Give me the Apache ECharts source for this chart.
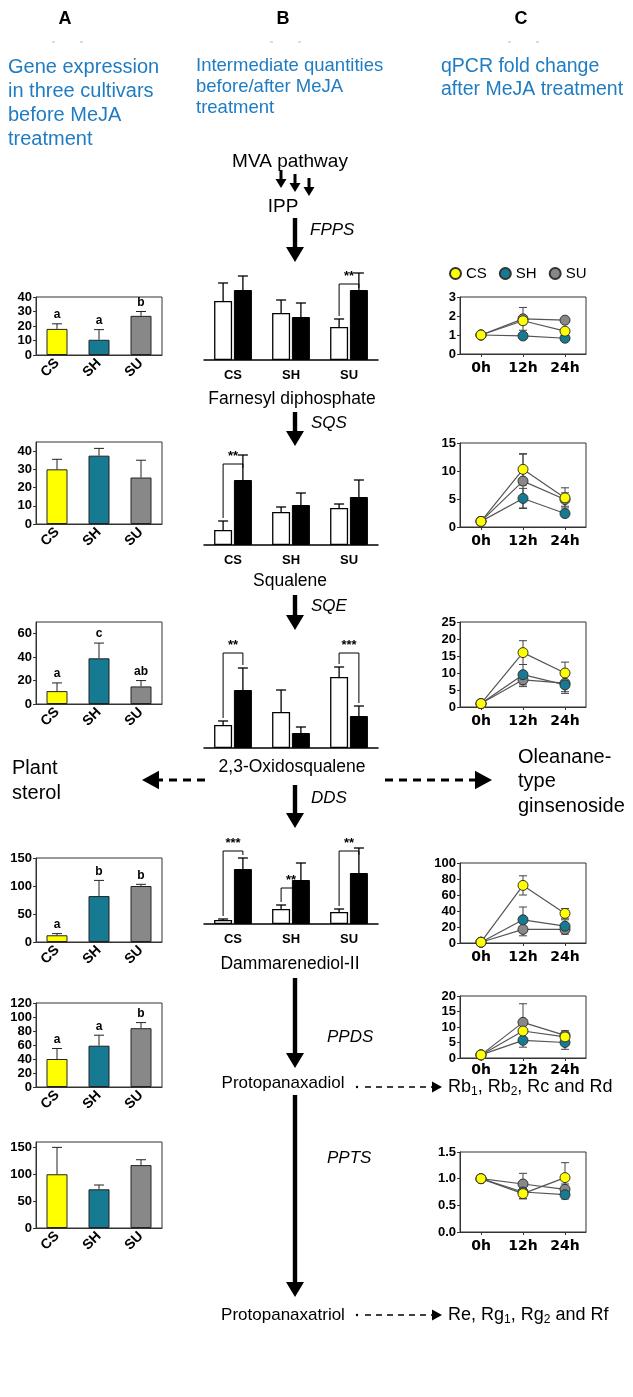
<!DOCTYPE html>
<html><head><meta charset="utf-8">
<script src="https://cdn.jsdelivr.net/npm/echarts@6/dist/echarts.min.js"></script>
<style>html,body{margin:0;padding:0;background:#fff}#c{width:633px;height:1397px}</style>
</head><body><div id="c"></div>
<script>
// ---------------- DATA ----------------
const cultivars = ['CS', 'SH', 'SU'];
const timepoints = ['0h', '12h', '24h'];
const cultivarColors = ['#ffff00', '#157a92', '#888888'];

// Column A: gene expression in three cultivars before MeJA treatment
const fppsExpr = [18, 10.5, 27], fppsExprErr = [3.5, 7, 3], fppsExprSig = ['a', 'a', 'b'];
const sqsExpr = [30, 37.5, 25.5], sqsExprErr = [5.5, 4, 9.5], sqsExprSig = ['', '', ''];
const sqeExpr = [11, 39, 15], sqeExprErr = [7, 13, 5], sqeExprSig = ['a', 'c', 'ab'];
const ddsExpr = [12, 82, 100], ddsExprErr = [3, 28, 3], ddsExprSig = ['a', 'b', 'b'];
const ppdsExpr = [40, 59, 84], ppdsExprErr = [15, 15, 8], ppdsExprSig = ['a', 'a', 'b'];
const pptsExpr = [100, 72, 117], pptsExprErr = [50, 8, 10], pptsExprSig = ['', '', ''];

// Column B: intermediate quantities before / after MeJA (relative units)
const fppBefore = [59, 47, 33], fppBeforeErr = [18, 13, 8];
const fppAfter = [70, 43, 70], fppAfterErr = [14, 14, 17];
const fppSig = ['', '', '**'], fppBracket = [null, null, 76];
const sqBefore = [15, 33, 37], sqBeforeErr = [9, 5, 4];
const sqAfter = [65, 40, 48], sqAfterErr = [25, 12, 17];
const sqSig = ['**', '', ''], sqBracket = [81, null, null];
const oxBefore = [23, 36, 71], oxBeforeErr = [4, 22, 10];
const oxAfter = [58, 15, 32], oxAfterErr = [22, 6, 10];
const oxSig = ['**', '', '***'], oxBracket = [95, null, 95];
const dmBefore = [4, 15, 12], dmBeforeErr = [1, 4, 3];
const dmAfter = [55, 44, 51], dmAfterErr = [11, 17, 25];
const dmSig = ['***', '**', '**'], dmBracket = [73, 36, 73];

// Column C: qPCR fold change after MeJA treatment (0h, 12h, 24h)
const fppsCS = [1, 1.75, 1.2], fppsCSErr = [0, 0.2, 0.12];
const fppsSH = [1, 0.95, 0.83], fppsSHErr = [0, 0.15, 0.15];
const fppsSU = [1, 1.85, 1.78], fppsSUErr = [0, 0.6, 0.05];
const sqsCS = [1, 10.3, 5.2], sqsCSErr = [0, 2.8, 1.8];
const sqsSH = [1, 5.1, 2.4], sqsSHErr = [0, 1.8, 0.6];
const sqsSU = [1, 8.2, 4.9], sqsSUErr = [0, 4.8, 1.2];
const sqeCS = [1, 16, 10], sqeCSErr = [0, 3.5, 3.2];
const sqeSH = [1, 9.5, 6.5], sqeSHErr = [0, 3, 2.5];
const sqeSU = [1, 8, 7], sqeSUErr = [0, 2, 2.5];
const ddsCS = [1, 72, 37], ddsCSErr = [0, 12, 6];
const ddsSH = [1, 29, 21], ddsSHErr = [0, 16, 8];
const ddsSU = [1, 17, 17], ddsSUErr = [0, 8, 6];
const ppdsCS = [1, 8.7, 6.8], ppdsCSErr = [0, 3, 1.5];
const ppdsSH = [1, 5.7, 5], ppdsSHErr = [0, 2.2, 2.2];
const ppdsSU = [1, 11.5, 7.3], ppdsSUErr = [0, 6, 1.5];
const pptsCS = [1, 0.72, 1.02], pptsCSErr = [0, 0.1, 0.28];
const pptsSH = [1, 0.75, 0.7], pptsSHErr = [0, 0.12, 0.08];
const pptsSU = [1, 0.9, 0.8], pptsSUErr = [0, 0.2, 0.1];

// ---------------- LAYOUT ----------------
const FONT = '"Liberation Sans", Arial, sans-serif';
const BLUE = '#1f7cc2';
const layoutA = [
  { top: 297, height: 58, max: 40, interval: 10, showMax: true },
  { top: 442, height: 82, max: 45, interval: 10, showMax: false },
  { top: 622, height: 82, max: 70, interval: 20, showMax: false },
  { top: 858, height: 84, max: 150, interval: 50, showMax: true },
  { top: 1003, height: 84, max: 120, interval: 20, showMax: true },
  { top: 1142, height: 86, max: 160, interval: 50, showMax: false }
];
const layoutB = [
  { top: 260, height: 100, labels: true },
  { top: 445, height: 100, labels: true },
  { top: 648, height: 100, labels: false },
  { top: 824, height: 100, labels: true }
];
const layoutC = [
  { top: 297, height: 57, max: 3, interval: 1, dec: 0, margin: 7 },
  { top: 443, height: 84, max: 15, interval: 5, dec: 0, margin: 7 },
  { top: 622, height: 85, max: 25, interval: 5, dec: 0, margin: 7 },
  { top: 863, height: 80, max: 100, interval: 20, dec: 0, margin: 7 },
  { top: 996, height: 62, max: 20, interval: 5, dec: 0, margin: 5 },
  { top: 1152, height: 80, max: 1.5, interval: 0.5, dec: 1, margin: 7 }
];

const grid = [], xAxis = [], yAxis = [], series = [];
let k = 0;

// ---- Column A ----
const colA = [
  [fppsExpr, fppsExprErr, fppsExprSig], [sqsExpr, sqsExprErr, sqsExprSig],
  [sqeExpr, sqeExprErr, sqeExprSig], [ddsExpr, ddsExprErr, ddsExprSig],
  [ppdsExpr, ppdsExprErr, ppdsExprSig], [pptsExpr, pptsExprErr, pptsExprSig]
];
colA.forEach((d, j) => {
  const L = layoutA[j], vals = d[0], errs = d[1], sig = d[2];
  grid.push({ left: 36, width: 126, top: L.top, height: L.height, show: true, borderColor: '#333', borderWidth: 1 });
  xAxis.push({ type: 'category', gridIndex: k, data: cultivars,
    axisLine: { lineStyle: { color: '#333' } }, axisTick: { show: false },
    axisLabel: { rotate: 45, fontWeight: 'bold', fontSize: 14, color: '#000', fontFamily: FONT, margin: 6 } });
  yAxis.push({ type: 'value', gridIndex: k, min: 0, max: L.max, interval: L.interval,
    splitLine: { show: false }, axisLine: { show: true, lineStyle: { color: '#333' } },
    axisTick: { show: true, length: 3, lineStyle: { color: '#333' } },
    axisLabel: { fontWeight: 'bold', fontSize: 13, color: '#000', fontFamily: FONT, margin: 4, showMaxLabel: L.showMax } });
  series.push({ type: 'bar', xAxisIndex: k, yAxisIndex: k, barWidth: 21,
    data: vals.map((v, i) => ({ value: v, itemStyle: { color: cultivarColors[i] } })),
    itemStyle: { borderColor: '#222', borderWidth: 1 }, silent: true });
  series.push({ type: 'custom', xAxisIndex: k, yAxisIndex: k, z: 3, silent: true,
    data: vals.map((v, i) => [i, v, errs[i]]),
    renderItem: (params, api) => {
      const i = api.value(0), v = api.value(1), e = api.value(2);
      const b = api.coord([i, v]), t = api.coord([i, v + e]);
      const ch = [
        { type: 'line', shape: { x1: b[0], y1: b[1], x2: t[0], y2: t[1] }, style: { stroke: '#222', lineWidth: 1 } },
        { type: 'line', shape: { x1: t[0] - 5, y1: t[1], x2: t[0] + 5, y2: t[1] }, style: { stroke: '#222', lineWidth: 1 } }
      ];
      const s = sig[params.dataIndex];
      if (s) ch.push({ type: 'text', style: { text: s, x: t[0], y: t[1] - 3, align: 'center', verticalAlign: 'bottom', fontSize: 12, fontWeight: 'bold', fontFamily: FONT, fill: '#000' } });
      return { type: 'group', children: ch };
    } });
  k++;
});

// ---- Column B ----
const colB = [
  [fppBefore, fppBeforeErr, fppAfter, fppAfterErr, fppSig, fppBracket],
  [sqBefore, sqBeforeErr, sqAfter, sqAfterErr, sqSig, sqBracket],
  [oxBefore, oxBeforeErr, oxAfter, oxAfterErr, oxSig, oxBracket],
  [dmBefore, dmBeforeErr, dmAfter, dmAfterErr, dmSig, dmBracket]
];
const BW = 18, OFF = 9.9;
colB.forEach((d, j) => {
  const L = layoutB[j];
  const [bef, befE, aft, aftE, sig, br] = d;
  grid.push({ left: 204, width: 174, top: L.top, height: L.height });
  xAxis.push({ type: 'category', gridIndex: k, data: cultivars,
    axisLine: { lineStyle: { color: '#000', width: 1.5 } }, axisTick: { show: false },
    axisLabel: { show: L.labels, fontWeight: 'bold', fontSize: 13, color: '#000', fontFamily: FONT, margin: 9 } });
  yAxis.push({ type: 'value', gridIndex: k, min: 0, max: 100, show: false, splitLine: { show: false } });
  series.push({ type: 'bar', xAxisIndex: k, yAxisIndex: k, barWidth: BW, barGap: '10%', data: bef,
    itemStyle: { color: '#fff', borderColor: '#000', borderWidth: 1.3 }, silent: true });
  series.push({ type: 'bar', xAxisIndex: k, yAxisIndex: k, barWidth: BW, barGap: '10%', data: aft,
    itemStyle: { color: '#000', borderColor: '#000', borderWidth: 1 }, silent: true });
  series.push({ type: 'custom', xAxisIndex: k, yAxisIndex: k, z: 3, silent: true,
    data: cultivars.map((c, i) => [i, bef[i], befE[i], aft[i], aftE[i]]),
    renderItem: (params, api) => {
      const i = api.value(0);
      const ch = [];
      [[api.value(1), api.value(2), -OFF], [api.value(3), api.value(4), OFF]].forEach(([v, e, o]) => {
        const b = api.coord([i, v]), t = api.coord([i, v + e]);
        const x = b[0] + o;
        ch.push({ type: 'line', shape: { x1: x, y1: b[1], x2: x, y2: t[1] }, style: { stroke: '#000', lineWidth: 1.3 } });
        ch.push({ type: 'line', shape: { x1: x - 5, y1: t[1], x2: x + 5, y2: t[1] }, style: { stroke: '#000', lineWidth: 1.3 } });
      });
      const lvl = br[params.dataIndex];
      if (lvl != null) {
        const c = api.coord([i, lvl]);
        const lBot = api.coord([i, Math.min(api.value(1) + api.value(2) + 3, lvl - 4)])[1];
        const rBot = api.coord([i, Math.min(api.value(3) + api.value(4) + 3, lvl - 4)])[1];
        const xl = c[0] - OFF, xr = c[0] + OFF;
        ch.push({ type: 'polyline', shape: { points: [[xl, lBot], [xl, c[1]], [xr, c[1]], [xr, rBot]] }, style: { stroke: '#000', lineWidth: 1, fill: null } });
        ch.push({ type: 'text', style: { text: sig[params.dataIndex], x: c[0], y: c[1] - 1, align: 'center', verticalAlign: 'bottom', fontSize: 13, fontWeight: 'bold', fontFamily: FONT, fill: '#000' } });
      }
      return { type: 'group', children: ch };
    } });
  k++;
});

// ---- Column C ----
const colC = [
  [[fppsCS, fppsCSErr], [fppsSH, fppsSHErr], [fppsSU, fppsSUErr]],
  [[sqsCS, sqsCSErr], [sqsSH, sqsSHErr], [sqsSU, sqsSUErr]],
  [[sqeCS, sqeCSErr], [sqeSH, sqeSHErr], [sqeSU, sqeSUErr]],
  [[ddsCS, ddsCSErr], [ddsSH, ddsSHErr], [ddsSU, ddsSUErr]],
  [[ppdsCS, ppdsCSErr], [ppdsSH, ppdsSHErr], [ppdsSU, ppdsSUErr]],
  [[pptsCS, pptsCSErr], [pptsSH, pptsSHErr], [pptsSU, pptsSUErr]]
];
colC.forEach((d, j) => {
  const L = layoutC[j];
  grid.push({ left: 460, width: 126, top: L.top, height: L.height, show: true, borderColor: '#333', borderWidth: 1 });
  xAxis.push({ type: 'category', gridIndex: k, data: timepoints, boundaryGap: true,
    axisLine: { lineStyle: { color: '#333' } },
    axisTick: { show: true, alignWithLabel: true, length: 3, lineStyle: { color: '#333' } },
    axisLabel: { fontWeight: 'bold', fontSize: 14, color: '#000', fontFamily: '"DejaVu Sans", sans-serif', margin: L.margin } });
  yAxis.push({ type: 'value', gridIndex: k, min: 0, max: L.max, interval: L.interval,
    splitLine: { show: false }, axisLine: { show: true, lineStyle: { color: '#333' } },
    axisTick: { show: true, length: 3, lineStyle: { color: '#333' } },
    axisLabel: { fontWeight: 'bold', fontSize: 13, color: '#000', fontFamily: FONT, margin: 4,
      formatter: v => v.toFixed(L.dec) } });
  [2, 1, 0].forEach(ci => {
    const [vals, errs] = d[ci];
    series.push({ type: 'custom', xAxisIndex: k, yAxisIndex: k, z: 1, silent: true,
      data: vals.map((v, i) => [i, v, errs[i]]),
      renderItem: (params, api) => {
        const i = api.value(0), v = api.value(1), e = api.value(2);
        if (!e) return null;
        const lo = api.coord([i, v - e]), hi = api.coord([i, v + e]);
        return { type: 'group', children: [
          { type: 'line', shape: { x1: lo[0], y1: lo[1], x2: hi[0], y2: hi[1] }, style: { stroke: '#444', lineWidth: 1 } },
          { type: 'line', shape: { x1: lo[0] - 4, y1: lo[1], x2: lo[0] + 4, y2: lo[1] }, style: { stroke: '#444', lineWidth: 1 } },
          { type: 'line', shape: { x1: hi[0] - 4, y1: hi[1], x2: hi[0] + 4, y2: hi[1] }, style: { stroke: '#444', lineWidth: 1 } }
        ] };
      } });
    series.push({ type: 'line', name: cultivars[ci], xAxisIndex: k, yAxisIndex: k, z: 2 + (2 - ci), data: vals,
      symbol: 'circle', symbolSize: 10, silent: true, animation: false,
      lineStyle: { color: '#555', width: 1.2 },
      itemStyle: { color: cultivarColors[ci], borderColor: '#333', borderWidth: 1 } });
  });
  k++;
});

// ---------------- GRAPHICS (text & arrows) ----------------
const G = [];
function txt(x, y, text, o = {}) {
  G.push({ type: 'text', x: x, y: y, silent: true, style: Object.assign({ text: text, fill: o.fill || '#000',
    fontSize: o.size || 18, fontWeight: o.weight || 'normal', fontStyle: o.style || 'normal', fontFamily: o.family || FONT,
    align: o.align || 'left', verticalAlign: 'middle' }, o.extra || {}) });
}
function bigArrow(x, y1, y2) {
  G.push({ type: 'rect', silent: true, shape: { x: x - 2.2, y: y1, width: 4.4, height: y2 - y1 - 13 }, style: { fill: '#000' } });
  G.push({ type: 'polygon', silent: true, shape: { points: [[x - 9, y2 - 15], [x + 9, y2 - 15], [x, y2]] }, style: { fill: '#000' } });
}
function smallArrow(x, y1, y2) {
  G.push({ type: 'rect', silent: true, shape: { x: x - 1.5, y: y1, width: 3, height: y2 - y1 - 8 }, style: { fill: '#000' } });
  G.push({ type: 'polygon', silent: true, shape: { points: [[x - 5.5, y2 - 9], [x + 5.5, y2 - 9], [x, y2]] }, style: { fill: '#000' } });
}
function dashArrow(x1, x2, y, dir, w, dash, head) {
  G.push({ type: 'line', silent: true, shape: { x1: x1, y1: y, x2: x2 - dir * head, y2: y }, style: { stroke: '#000', lineWidth: w, lineDash: dash } });
  G.push({ type: 'polygon', silent: true, shape: { points: [[x2 - dir * head, y - head * 0.55], [x2 - dir * head, y + head * 0.55], [x2, y]] }, style: { fill: '#000' } });
}

// headers
txt(65, 19, 'A', { size: 18, weight: 'bold', align: 'center' });
txt(283, 19, 'B', { size: 18, weight: 'bold', align: 'center' });
txt(521, 19, 'C', { size: 18, weight: 'bold', align: 'center' });
[[52, 42], [80, 42], [270, 42], [298, 42], [508, 42], [536, 42]].forEach(p =>
  G.push({ type: 'line', silent: true, shape: { x1: p[0], y1: p[1], x2: p[0] + 3, y2: p[1] }, style: { stroke: '#bbb', lineWidth: 1 } }));
['Gene expression', 'in three cultivars', 'before MeJA', 'treatment'].forEach((s, i) => txt(8, 67 + i * 24, s, { size: 20, fill: BLUE }));
['Intermediate quantities', 'before/after MeJA', 'treatment'].forEach((s, i) => txt(196, 66 + i * 21, s, { size: 18.5, fill: BLUE }));
['qPCR fold change', 'after MeJA treatment'].forEach((s, i) => txt(441, 67 + i * 23, s, { size: 19.5, fill: BLUE }));

// pathway
txt(290, 162, 'MVA pathway', { size: 19, align: 'center' });
smallArrow(281, 170, 188); smallArrow(295, 174, 192); smallArrow(309, 178, 196);
txt(283, 207, 'IPP', { size: 19, align: 'center' });
bigArrow(295, 218, 262); txt(310, 230, 'FPPS', { size: 17, style: 'italic' });
txt(292, 399, 'Farnesyl diphosphate', { size: 17.5, align: 'center' });
bigArrow(295, 412, 446); txt(311, 423, 'SQS', { size: 17, style: 'italic' });
txt(290, 581, 'Squalene', { size: 17.5, align: 'center' });
bigArrow(295, 595, 630); txt(311, 606, 'SQE', { size: 17, style: 'italic' });
txt(292, 767, '2,3-Oxidosqualene', { size: 17.5, align: 'center' });
bigArrow(295, 785, 828); txt(311, 798, 'DDS', { size: 17, style: 'italic' });
txt(290, 964, 'Dammarenediol-II', { size: 17.5, align: 'center' });
bigArrow(295, 978, 1068); txt(327, 1037, 'PPDS', { size: 17, style: 'italic' });
txt(283, 1083, 'Protopanaxadiol', { size: 17, align: 'center' });
bigArrow(295, 1095, 1297); txt(327, 1158, 'PPTS', { size: 17, style: 'italic' });
txt(283, 1315, 'Protopanaxatriol', { size: 17, align: 'center' });

// side branches
txt(12, 768, 'Plant', { size: 20 }); txt(12, 793, 'sterol', { size: 20 });
dashArrow(205, 142, 780, -1, 3, [8, 6], 17);
['Oleanane-', 'type', 'ginsenoside'].forEach((s, i) => txt(518, 757 + i * 24.5, s, { size: 20 }));
dashArrow(385, 492, 780, 1, 3, [8, 6], 17);

// ginsenoside groups
const richSub = { n: { fontSize: 18, lineHeight: 22, fontFamily: FONT }, s: { fontSize: 12, lineHeight: 9, verticalAlign: 'bottom', fontFamily: FONT } };
G.push({ type: 'circle', silent: true, shape: { cx: 357, cy: 1087, r: 1.2 }, style: { fill: '#000' } });
dashArrow(365, 442, 1087, 1, 1.6, [6, 5], 10);
G.push({ type: 'text', x: 448, y: 1087, silent: true, style: { text: '{n|Rb}{s|1}{n|, Rb}{s|2}{n|, Rc and Rd}', rich: richSub, verticalAlign: 'middle', fill: '#000' } });
G.push({ type: 'circle', silent: true, shape: { cx: 357, cy: 1315, r: 1.2 }, style: { fill: '#000' } });
dashArrow(365, 442, 1315, 1, 1.6, [6, 5], 10);
G.push({ type: 'text', x: 448, y: 1315, silent: true, style: { text: '{n|Re, Rg}{s|1}{n|, Rg}{s|2}{n| and Rf}', rich: richSub, verticalAlign: 'middle', fill: '#000' } });

const chart = echarts.init(document.getElementById('c'));
chart.setOption({
  animation: false,
  backgroundColor: '#fff',
  legend: { data: cultivars, left: 444, top: 261, icon: 'circle', itemWidth: 11, itemHeight: 11, itemGap: 12,
    textStyle: { fontSize: 15, color: '#000', fontFamily: FONT }, selectedMode: false },
  grid: grid, xAxis: xAxis, yAxis: yAxis, series: series,
  graphic: { elements: G }
});
</script></body></html>
